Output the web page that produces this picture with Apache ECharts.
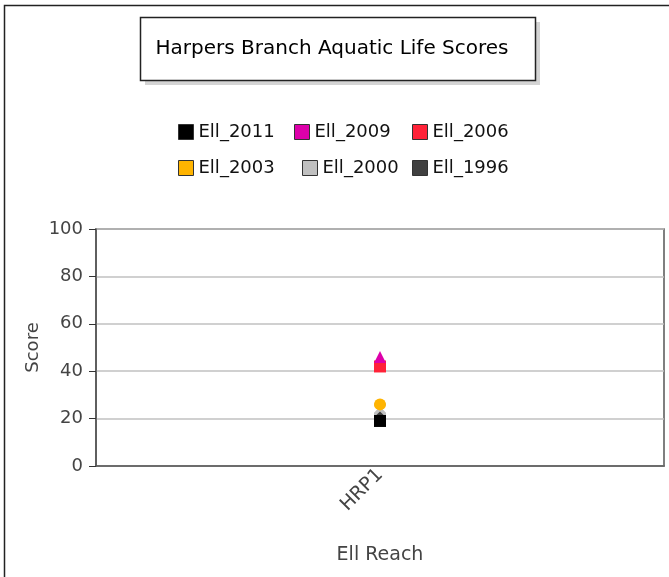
<!DOCTYPE html>
<html lang="en">
<head>
    <meta charset="UTF-8">
    <title>Harpers Branch Aquatic Life Scores</title>
    <script src="https://cdn.jsdelivr.net/npm/echarts@6/dist/echarts.min.js"></script>
    <style>
        html, body { margin: 0; padding: 0; background: #fff; }
    </style>
</head>
<body>
<div id="main" style="width: 669px;height:577px;"></div>
<script type="text/javascript">
    var reaches = ['HRP1'];           // categories on the x axis
    var seriesNames = ['Ell_2011', 'Ell_2009', 'Ell_2006', 'Ell_2003', 'Ell_2000', 'Ell_1996'];
    var ell2011 = [19];
    var ell2009 = [46];
    var ell2006 = [42];
    var ell2003 = [26];
    var ell2000 = [24];
    var ell1996 = [23];
    var yTicks = [0, 20, 40, 60, 80, 100];

    var colors = ['#000000', '#dd00aa', '#ff2238', '#ffb400', '#c0c0c0', '#404040'];
    var crossPath = 'path://M0,0 L2,0 L5,3 L8,0 L10,0 L10,2 L7,5 L10,8 L10,10 L8,10 L5,7 L2,10 L0,10 L0,8 L3,5 L0,2 Z';
    var symbols = ['rect', 'triangle', 'rect', 'circle', crossPath, 'triangle'];
    var values = [ell2011, ell2009, ell2006, ell2003, ell2000, ell1996];
    var font = '"DejaVu Sans", Tahoma, sans-serif';

    // where each legend entry sits (two rows of three)
    var legendLeft = [178, 294, 412, 178, 302, 412];
    var legendTop = [123, 123, 123, 159, 159, 159];

    var myChart = echarts.init(document.getElementById('main'), null, {renderer: 'canvas'});

    var series = [];
    var legends = [];
    for (var i = 0; i < seriesNames.length; i++) {
        series.push({
            name: seriesNames[i],
            type: 'scatter',
            data: values[i],
            symbol: symbols[i],
            symbolSize: 12,
            itemStyle: {color: colors[i], opacity: 1},
            z: 10 - i
        });
        legends.push({
            data: [{name: seriesNames[i], icon: 'rect', itemStyle: {borderColor: '#333', borderWidth: 1}}],
            left: legendLeft[i],
            top: legendTop[i],
            padding: 0,
            itemWidth: 15,
            itemHeight: 15,
            selectedMode: false,
            textStyle: {fontFamily: font, fontSize: 18, color: '#111'}
        });
    }

    myChart.setOption({
        animation: false,
        graphic: [
            // outer frame
            {type: 'rect', shape: {x: 4.5, y: 5.5, width: 700, height: 600},
             style: {fill: 'none', stroke: '#222', lineWidth: 1.5}},
            // title box shadow
            {type: 'rect', shape: {x: 145, y: 22, width: 395, height: 63},
             style: {fill: '#d4d4d4'}},
            // title box
            {type: 'rect', shape: {x: 140.5, y: 17.5, width: 395, height: 63},
             style: {fill: '#fff', stroke: '#222', lineWidth: 1.5}},
            {type: 'text', x: 332, y: 49, z: 100,
             style: {text: 'Harpers Branch Aquatic Life Scores', textAlign: 'center', textVerticalAlign: 'middle',
                     font: '20px ' + font, fill: '#000'}}
        ],
        legend: legends,
        grid: {
            left: 96, top: 229, right: 5, bottom: 111,
            show: true, borderColor: '#555', borderWidth: 1.5, backgroundColor: '#fff'
        },
        xAxis: {
            type: 'category',
            data: reaches,
            name: 'Ell Reach',
            nameLocation: 'middle',
            nameGap: 80,
            nameMoveOverlap: false,
            nameTextStyle: {fontFamily: font, fontSize: 19, color: '#444'},
            axisLine: {lineStyle: {color: '#555', width: 1.5}},
            axisTick: {alignWithLabel: true, length: 6, lineStyle: {color: '#333'}},
            axisLabel: {rotate: 45, fontFamily: font, fontSize: 19, color: '#444', margin: 6}
        },
        yAxis: {
            type: 'value',
            min: yTicks[0],
            max: yTicks[yTicks.length - 1],
            interval: 20,
            name: 'Score',
            nameLocation: 'middle',
            nameGap: 54,
            nameMoveOverlap: false,
            nameTextStyle: {fontFamily: font, fontSize: 18, color: '#444'},
            axisLine: {show: true, lineStyle: {color: '#555', width: 1.5}},
            axisTick: {show: true, length: 7, lineStyle: {color: '#333'}},
            axisLabel: {fontFamily: font, fontSize: 18, color: '#444', margin: 13},
            splitLine: {lineStyle: {color: '#c0c0c0', width: 1.5}}
        },
        series: series
    });
</script>
</body>
</html>
